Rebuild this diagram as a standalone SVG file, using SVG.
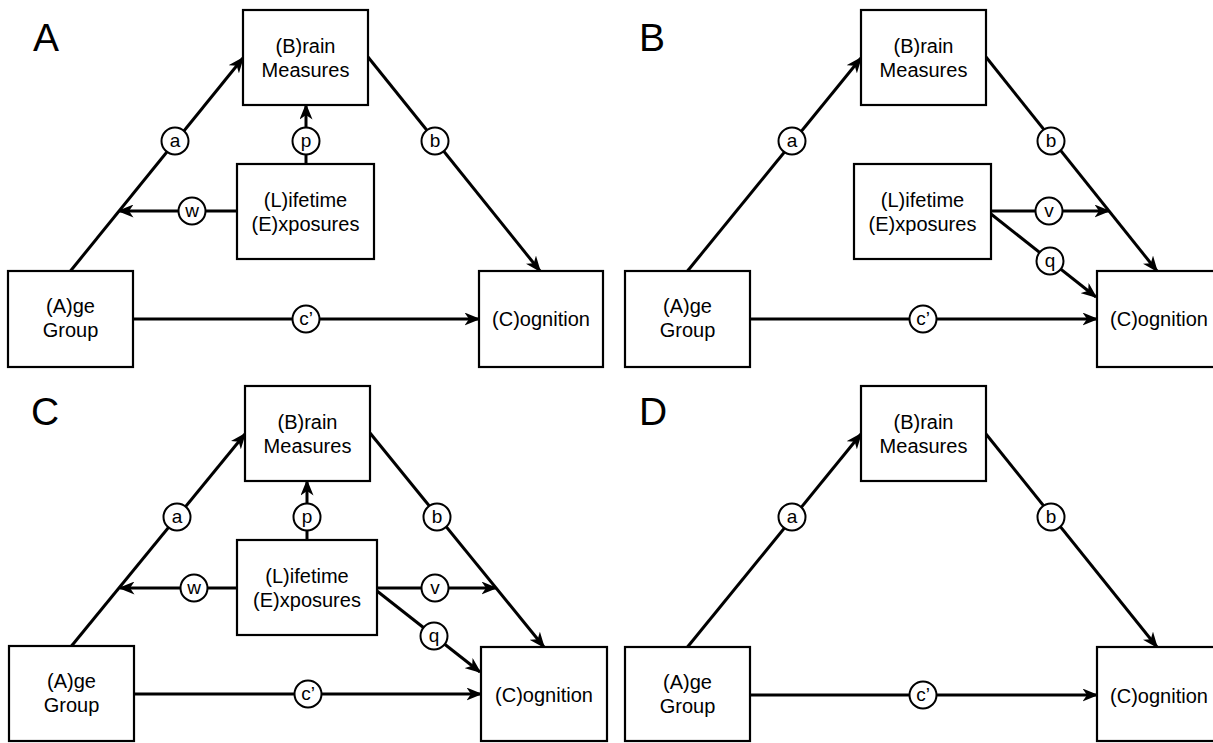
<svg xmlns="http://www.w3.org/2000/svg" width="1213" height="743" viewBox="0 0 1213 743">
<style>
.box{fill:#fff;stroke:#000;stroke-width:2.2}
.t{font-family:"Liberation Sans",Arial,sans-serif;font-size:20px;text-anchor:middle;fill:#000}
.lab{font-family:"Liberation Sans",Arial,sans-serif;font-size:39px;fill:#000}
.ea{fill:none;stroke:#000;stroke-width:3;marker-end:url(#ah)}
.c{fill:#fff;stroke:#000;stroke-width:2}
.ct{font-family:"Liberation Sans",Arial,sans-serif;font-size:19px;text-anchor:middle;fill:#000}
</style>
<defs>
<marker id="ah" viewBox="0 0 16 13" refX="14.5" refY="6.5" markerWidth="16" markerHeight="13" markerUnits="userSpaceOnUse" orient="auto">
<path d="M0,0 L16,6.5 L0,13 L4.5,6.5 z" fill="#000"/>
</marker>
</defs>
<rect width="1213" height="743" fill="#fff"/>

<text class="lab" x="33" y="51">A</text>
<text class="lab" x="639" y="51">B</text>
<text class="lab" x="31" y="425">C</text>
<text class="lab" x="639" y="425">D</text>

<g id="connectors">
<!-- Panel A -->
<line class="ea" x1="70.5" y1="271" x2="243" y2="58"/>
<line class="ea" x1="368" y1="57" x2="540" y2="271"/>
<line class="ea" x1="306" y1="164" x2="306" y2="105"/>
<line class="ea" x1="237" y1="211" x2="119" y2="211"/>
<line class="ea" x1="133" y1="319" x2="479" y2="319"/>
<!-- Panel B -->
<line class="ea" x1="687.5" y1="271" x2="861" y2="58"/>
<line class="ea" x1="986" y1="57" x2="1157" y2="271"/>
<line class="ea" x1="991" y1="211" x2="1109" y2="211"/>
<line class="ea" x1="991" y1="214" x2="1096" y2="297"/>
<line class="ea" x1="750" y1="319" x2="1097" y2="319"/>
<!-- Panel C -->
<line class="ea" x1="71.5" y1="646" x2="245" y2="434"/>
<line class="ea" x1="370" y1="433" x2="544" y2="647"/>
<line class="ea" x1="307" y1="540" x2="307" y2="481"/>
<line class="ea" x1="237" y1="588" x2="120" y2="588"/>
<line class="ea" x1="377" y1="588" x2="496" y2="588"/>
<line class="ea" x1="377" y1="591" x2="480" y2="672"/>
<line class="ea" x1="134" y1="694" x2="481" y2="694"/>
<!-- Panel D -->
<line class="ea" x1="687.5" y1="647" x2="861" y2="434"/>
<line class="ea" x1="986" y1="434" x2="1157" y2="647"/>
<line class="ea" x1="750" y1="695" x2="1097" y2="695"/>

<!-- path labels -->
<g>
<circle class="c" cx="175" cy="141" r="13.5"/><text class="ct" x="175" y="147">a</text>
<circle class="c" cx="435" cy="141" r="13.5"/><text class="ct" x="435" y="147">b</text>
<circle class="c" cx="306" cy="141" r="13.5"/><text class="ct" x="306" y="147">p</text>
<circle class="c" cx="192" cy="211" r="13.5"/><text class="ct" x="192" y="217">w</text>
<circle class="c" cx="306" cy="319" r="13.5"/><text class="ct" x="306" y="325">c’</text>

<circle class="c" cx="792" cy="141" r="13.5"/><text class="ct" x="792" y="147">a</text>
<circle class="c" cx="1051" cy="141" r="13.5"/><text class="ct" x="1051" y="147">b</text>
<circle class="c" cx="1049" cy="211" r="13.5"/><text class="ct" x="1049" y="217">v</text>
<circle class="c" cx="1050" cy="261" r="13.5"/><text class="ct" x="1050" y="267">q</text>
<circle class="c" cx="923" cy="319" r="13.5"/><text class="ct" x="923" y="325">c’</text>

<circle class="c" cx="177" cy="517" r="13.5"/><text class="ct" x="177" y="523">a</text>
<circle class="c" cx="437" cy="517" r="13.5"/><text class="ct" x="437" y="523">b</text>
<circle class="c" cx="307" cy="517" r="13.5"/><text class="ct" x="307" y="523">p</text>
<circle class="c" cx="194" cy="588" r="13.5"/><text class="ct" x="194" y="594">w</text>
<circle class="c" cx="435" cy="588" r="13.5"/><text class="ct" x="435" y="594">v</text>
<circle class="c" cx="434" cy="636" r="13.5"/><text class="ct" x="434" y="642">q</text>
<circle class="c" cx="308" cy="694" r="13.5"/><text class="ct" x="308" y="700">c’</text>

<circle class="c" cx="792" cy="517" r="13.5"/><text class="ct" x="792" y="523">a</text>
<circle class="c" cx="1051" cy="517" r="13.5"/><text class="ct" x="1051" y="523">b</text>
<circle class="c" cx="923" cy="695" r="13.5"/><text class="ct" x="923" y="701">c’</text>
</g>
</g>

<!-- Panel A nodes -->
<g id="A-brain"><rect class="box" x="243" y="10" width="125" height="95"/><text class="t" x="305.5" y="53">(B)rain</text><text class="t" x="305.5" y="77">Measures</text></g>
<g id="A-life"><rect class="box" x="237" y="164" width="137" height="95"/><text class="t" x="305.5" y="207">(L)ifetime</text><text class="t" x="305.5" y="231">(E)xposures</text></g>
<g id="A-age"><rect class="box" x="8" y="271" width="125" height="96"/><text class="t" x="70.5" y="313">(A)ge</text><text class="t" x="70.5" y="337">Group</text></g>
<g id="A-cog"><rect class="box" x="479" y="271" width="124" height="96"/><text class="t" x="541" y="326">(C)ognition</text></g>

<!-- Panel B nodes -->
<g id="B-brain"><rect class="box" x="861" y="10" width="125" height="95"/><text class="t" x="923.5" y="53">(B)rain</text><text class="t" x="923.5" y="77">Measures</text></g>
<g id="B-life"><rect class="box" x="854" y="164" width="137" height="95"/><text class="t" x="922.5" y="207">(L)ifetime</text><text class="t" x="922.5" y="231">(E)xposures</text></g>
<g id="B-age"><rect class="box" x="625" y="271" width="125" height="96"/><text class="t" x="687.5" y="313">(A)ge</text><text class="t" x="687.5" y="337">Group</text></g>
<g id="B-cog"><rect class="box" x="1097" y="271" width="124" height="96"/><text class="t" x="1159" y="326">(C)ognition</text></g>

<!-- Panel C nodes -->
<g id="C-brain"><rect class="box" x="245" y="386" width="125" height="95"/><text class="t" x="307.5" y="429">(B)rain</text><text class="t" x="307.5" y="453">Measures</text></g>
<g id="C-life"><rect class="box" x="237" y="540" width="140" height="95"/><text class="t" x="307" y="583">(L)ifetime</text><text class="t" x="307" y="607">(E)xposures</text></g>
<g id="C-age"><rect class="box" x="9" y="646" width="125" height="95"/><text class="t" x="71.5" y="688">(A)ge</text><text class="t" x="71.5" y="712">Group</text></g>
<g id="C-cog"><rect class="box" x="481" y="647" width="126" height="94"/><text class="t" x="544" y="702">(C)ognition</text></g>

<!-- Panel D nodes -->
<g id="D-brain"><rect class="box" x="861" y="386" width="125" height="95"/><text class="t" x="923.5" y="429">(B)rain</text><text class="t" x="923.5" y="453">Measures</text></g>
<g id="D-age"><rect class="box" x="625" y="647" width="125" height="94"/><text class="t" x="687.5" y="689">(A)ge</text><text class="t" x="687.5" y="713">Group</text></g>
<g id="D-cog"><rect class="box" x="1097" y="647" width="124" height="94"/><text class="t" x="1159" y="703">(C)ognition</text></g>
</svg>
